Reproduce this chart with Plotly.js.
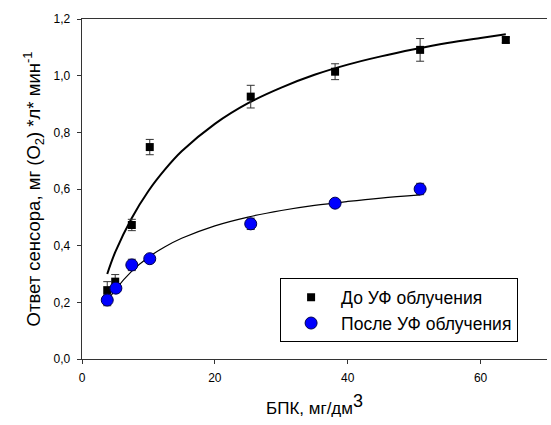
<!DOCTYPE html>
<html>
<head>
<meta charset="utf-8">
<script src="https://cdn.plot.ly/plotly-3.0.1.min.js"></script>
<style>html,body{margin:0;padding:0;background:#fff;}#chart{width:551px;height:425px;}</style>
</head>
<body>
<div id="chart"></div>
<script>
// Measured points: before UV irradiation
const beforeX = [3.8, 5.0, 7.5, 10.2, 25.4, 38.1, 50.9, 63.8];
const beforeY = [0.243, 0.273, 0.473, 0.748, 0.926, 1.014, 1.091, 1.126];
const beforeErr = [0.03, 0.025, 0.02, 0.027, 0.04, 0.028, 0.04, 0.01];
// Measured points: after UV irradiation
const afterX = [3.8, 5.1, 7.5, 10.2, 25.4, 38.1, 50.9];
const afterY = [0.208, 0.250, 0.332, 0.354, 0.477, 0.550, 0.600];
const afterErr = [0.02, 0.015, 0.02, 0.01, 0.02, 0.01, 0.02];
// Fitted curves
const fitBeforeX = [3.8, 5, 7.5, 10, 12.5, 15, 20, 25, 30, 35, 40, 45, 50, 55, 60, 63.8];
const fitBeforeY = [0.30, 0.377, 0.498, 0.593, 0.669, 0.733, 0.830, 0.903, 0.958, 1.003, 1.039, 1.068, 1.093, 1.115, 1.133, 1.146];
const fitAfterX = [3.8, 5, 7.5, 10, 12.5, 15, 20, 25, 30, 35, 40, 45, 50.9];
const fitAfterY = [0.203, 0.244, 0.310, 0.359, 0.396, 0.426, 0.470, 0.501, 0.524, 0.542, 0.556, 0.568, 0.579];
const seriesNames = ["До УФ облучения", "После УФ облучения"];
const xTicks = [0, 20, 40, 60];
const yTicks = [0, 0.2, 0.4, 0.6, 0.8, 1.0, 1.2];

const font = "Arial, 'Liberation Sans', sans-serif";

const traces = [
  {x: fitBeforeX, y: fitBeforeY, mode: 'lines', line: {color: '#000', width: 2, shape: 'spline'}, showlegend: false, hoverinfo: 'skip'},
  {x: fitAfterX, y: fitAfterY, mode: 'lines', line: {color: '#000', width: 1.2, shape: 'spline'}, showlegend: false, hoverinfo: 'skip'},
  {x: beforeX, y: beforeY, name: seriesNames[0], mode: 'markers', type: 'scatter',
   marker: {symbol: 'square', size: 8, color: '#000'},
   error_y: {type: 'data', array: beforeErr, visible: true, color: '#333', thickness: 1, width: 4}},
  {x: afterX, y: afterY, name: seriesNames[1], mode: 'markers', type: 'scatter',
   marker: {symbol: 'circle', size: 12, color: '#0000ff', line: {color: '#000050', width: 1}},
   error_y: {type: 'data', array: afterErr, visible: true, color: '#333', thickness: 1, width: 4}}
];

const layout = {
  width: 551, height: 425,
  margin: {l: 82, r: 4, t: 19, b: 66},
  paper_bgcolor: '#fff', plot_bgcolor: '#fff',
  separators: ', ',
  font: {family: font, size: 12, color: '#000'},
  showlegend: true,
  legend: {x: 0.426, y: 0.237, xanchor: 'left', yanchor: 'top',
           bordercolor: '#000', borderwidth: 1, bgcolor: '#fff',
           font: {family: font, size: 17.5, color: '#000'}, itemwidth: 50, tracegroupgap: 0},
  xaxis: {range: [0, 70], tickvals: xTicks, ticktext: xTicks.map(String),
          showgrid: false, zeroline: false, showline: true, linecolor: '#333', linewidth: 1.3,
          mirror: true, ticks: 'outside', ticklen: 4, tickcolor: '#333', ticklabelstandoff: 3,
          tickfont: {size: 12, family: font},
          title: {text: 'БПК, мг/дм<sup><span style="font-size:18px">3</span></sup>', font: {size: 17, family: font}, standoff: 18}},
  yaxis: {range: [0, 1.2], tickvals: yTicks, tickformat: '.1f',
          showgrid: false, zeroline: false, showline: true, linecolor: '#333', linewidth: 1.3,
          ticks: 'outside', ticklen: 4, tickcolor: '#333', ticklabelstandoff: 4,
          tickfont: {size: 12, family: font},
          title: {text: 'Ответ сенсора, мг (O<sub>2</sub>) *л* мин<sup>-1</sup>', font: {size: 18.5, family: font}, standoff: 8}}
};

Plotly.newPlot('chart', traces, layout, {displayModeBar: false, staticPlot: true});
</script>
</body>
</html>
